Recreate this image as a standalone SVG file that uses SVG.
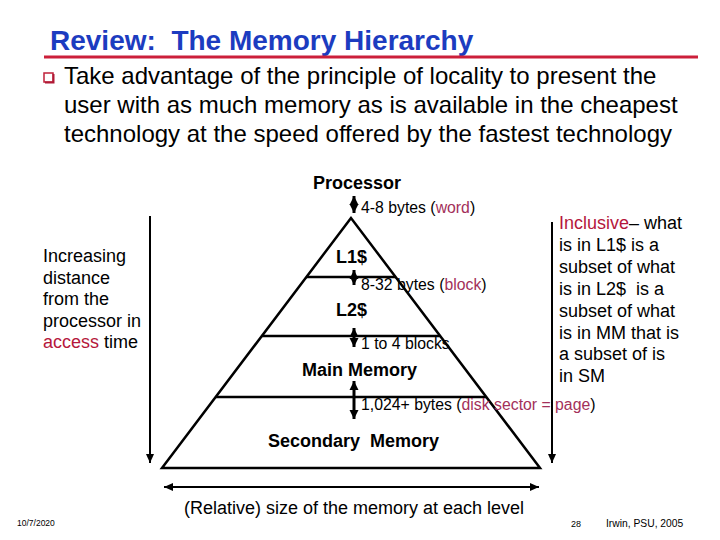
<svg xmlns="http://www.w3.org/2000/svg" width="720" height="540" viewBox="0 0 720 540">
<style>
text{font-family:"Liberation Sans",Arial,sans-serif;fill:#000;white-space:pre}
.title{font-size:28px;font-weight:bold;fill:#1c3cc0}
.body{font-size:24px}
.lbl{font-size:18px;font-weight:bold}
.note{font-size:15.8px}
.side{font-size:18px}
.red{fill:#b5173c}
.mar{fill:#a3305a}
.foot{font-size:9px}
.ln{stroke:#000;stroke-width:2.5;fill:none}
.arr{stroke:#000;stroke-width:2;fill:none}
.darr{stroke:#000;stroke-width:3;fill:none}
</style>
<defs>
<marker id="h" markerUnits="userSpaceOnUse" markerWidth="10" markerHeight="10" refX="9" refY="4" orient="auto-start-reverse" viewBox="0 0 10 8">
<path d="M0,0 L9,4 L0,8 z" fill="#000"/>
</marker>
<marker id="hb" markerUnits="userSpaceOnUse" markerWidth="10" markerHeight="10" refX="9" refY="4.5" orient="auto-start-reverse" viewBox="0 0 10 9">
<path d="M0,0 L9,4.5 L0,9 z" fill="#000"/>
</marker>
</defs>
<rect width="720" height="540" fill="#fff"/>
<g id="title">
<text class="title" x="50" y="50" xml:space="preserve">Review:  The Memory Hierarchy</text>
<line x1="44" y1="57" x2="698" y2="57" stroke="#cc1f3a" stroke-width="3"/>
</g>
<g id="bullet">
<rect x="44" y="73" width="9" height="9" fill="#fff" stroke="#c0203a" stroke-width="1.5"/>
<path d="M45,82.5 L53.5,82.5 L53.5,74" fill="none" stroke="#b01a36" stroke-width="2"/>
<text class="body" x="64" y="84">Take advantage of the principle of locality to present the</text>
<text class="body" x="64" y="113">user with as much memory as is available in the cheapest</text>
<text class="body" x="64" y="142">technology at the speed offered by the fastest technology</text>
</g>
<g id="pyramid">
<path class="ln" d="M351,218 L162,468 L540,468 Z"/>
<line class="ln" x1="306" y1="277" x2="396" y2="277"/>
<line class="ln" x1="262" y1="336" x2="440" y2="336"/>
<line class="ln" x1="216" y1="397" x2="486" y2="397"/>
</g>
<g id="processor"><text class="lbl" x="357" y="189" text-anchor="middle">Processor</text></g>
<g id="l1"><text class="lbl" x="336" y="263">L1$</text></g>
<g id="l2"><text class="lbl" x="336" y="316">L2$</text></g>
<g id="mm"><text class="lbl" x="302" y="376">Main Memory</text></g>
<g id="sm"><text class="lbl" x="268" y="447" xml:space="preserve">Secondary  Memory</text></g>
<g id="connectors">
<line class="darr" x1="354" y1="196" x2="354" y2="213" marker-start="url(#hb)" marker-end="url(#hb)"/>
<line class="darr" x1="354" y1="270" x2="354" y2="285" marker-start="url(#hb)" marker-end="url(#hb)"/>
<line class="darr" x1="354" y1="328" x2="354" y2="347" marker-start="url(#hb)" marker-end="url(#hb)"/>
<line class="darr" x1="354" y1="381" x2="354" y2="419" marker-start="url(#hb)" marker-end="url(#hb)"/>
<line class="arr" x1="150" y1="216" x2="150" y2="463" marker-end="url(#h)"/>
<line class="arr" x1="552" y1="222" x2="552" y2="463" marker-end="url(#h)"/>
<line class="arr" x1="164" y1="487" x2="539" y2="487" marker-start="url(#h)" marker-end="url(#h)"/>
</g>
<g id="labels">
<text class="note" x="361" y="213">4-8 bytes (<tspan class="mar">word</tspan>)</text>
<text class="note" x="361" y="290">8-32 bytes (<tspan class="mar">block</tspan>)</text>
<text class="note" x="361" y="349">1 to 4 blocks</text>
<text class="note" x="361" y="410">1,024+ bytes (<tspan class="mar">disk sector = page</tspan>)</text>
<text x="354" y="514" text-anchor="middle" style="font-size:18px">(Relative) size of the memory at each level</text>
</g>
<g id="left-note">
<text class="side" x="43" y="262">Increasing</text>
<text class="side" x="43" y="283.5">distance</text>
<text class="side" x="43" y="305">from the</text>
<text class="side" x="43" y="326.5">processor in</text>
<text class="side" x="43" y="348"><tspan class="red">access</tspan> time</text>
</g>
<g id="right-note">
<text class="side" x="559" y="229"><tspan class="red">Inclusive</tspan>– what</text>
<text class="side" x="559" y="251">is in L1$ is a</text>
<text class="side" x="559" y="273">subset of what</text>
<text class="side" x="559" y="295" xml:space="preserve">is in L2$  is a</text>
<text class="side" x="559" y="317">subset of what</text>
<text class="side" x="559" y="339">is in MM that is</text>
<text class="side" x="559" y="360">a subset of is</text>
<text class="side" x="559" y="382">in SM</text>
</g>
<g id="footer">
<text class="foot" x="17" y="526" style="font-size:8.5px">10/7/2020</text>
<text class="foot" x="571" y="527">28</text>
<text class="foot" x="606" y="527" style="font-size:10.3px">Irwin, PSU, 2005</text>
</g>
</svg>
